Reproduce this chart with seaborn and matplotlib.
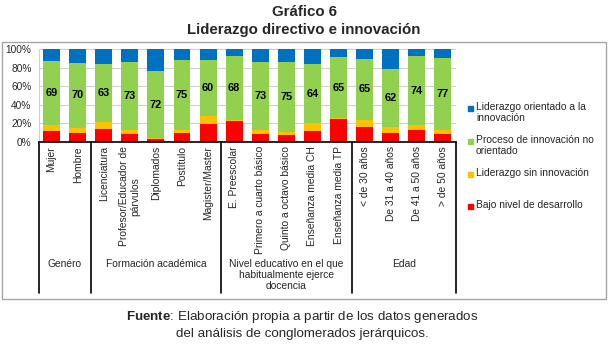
import numpy as np
import pandas as pd
import seaborn as sns
from matplotlib import pyplot as plt
from matplotlib.patches import Rectangle
from matplotlib.ticker import PercentFormatter

categorias = ['Mujer', 'Hombre', 'Licenciatura', 'Profesor/Educador de\npárvulos',
              'Diplomados', 'Postítulo', 'Magister/Master', 'E. Preescolar',
              'Primero a cuarto básico', 'Quinto a octavo básico', 'Enseñanza media CH',
              'Enseñanza media TP', '< de 30 años', 'De 31 a 40 años', 'De 41 a 50 años',
              '> de 50 años']
bajo_nivel = [12, 10, 14, 9, 3, 10, 19, 23, 9, 7, 12, 25, 16, 10, 13, 9]
sin_innovacion = [6, 5, 7, 4, 1, 3, 9, 1, 4, 4, 8, 1, 8, 6, 5, 4]
no_orientado = [69, 70, 63, 73, 72, 75, 60, 68, 73, 75, 64, 65, 65, 62, 74, 77]
orientado = [13, 15, 16, 14, 24, 12, 12, 8, 14, 14, 16, 9, 11, 22, 8, 10]

grupos = ['Genéro', 'Formación académica',
          'Nivel educativo en el que\nhabitualmente ejerce\ndocencia', 'Edad']
tam_grupos = [2, 5, 5, 4]

series = ['Bajo nivel de desarrollo', 'Liderazgo sin innovación',
          'Proceso de innovación no\norientado', 'Liderazgo orientado a la\ninnovación']
colores = ['#ff0000', '#ffc000', '#92d050', '#0070c0']

sns.set_style('white')
plt.rcParams['font.family'] = ['Liberation Sans', 'DejaVu Sans']
plt.rcParams['mathtext.fontset'] = 'custom'
plt.rcParams['mathtext.rm'] = 'Liberation Sans'
plt.rcParams['mathtext.bf'] = 'Liberation Sans:bold'

W, H = 608, 346
fig = plt.figure(figsize=(W / 100, H / 100), dpi=100)
ax = fig.add_axes([38.5 / W, 1 - 142 / H, (456 - 38.5) / W, 93 / H])

df = pd.DataFrame({'categoria': categorias, series[0]: bajo_nivel, series[1]: sin_innovacion,
                   series[2]: no_orientado, series[3]: orientado})
acumulado = df[series].cumsum(axis=1)

# barras apiladas: se dibuja del total hacia abajo
for s, c in reversed(list(zip(series, colores))):
    sns.barplot(x=df['categoria'], y=acumulado[s], color=c, saturation=1, width=0.65,
                linewidth=0, ax=ax)

for i in range(len(categorias)):
    y = bajo_nivel[i] + sin_innovacion[i] + no_orientado[i] / 2
    ax.text(i, y, str(no_orientado[i]), ha='center', va='center', fontsize=7.8,
            fontweight='bold', color='black')

ax.set_ylim(0, 100)
ax.set_xlim(-0.5, len(categorias) - 0.5)
ax.set_yticks(range(0, 101, 20))
ax.yaxis.set_major_formatter(PercentFormatter(decimals=0))
ax.yaxis.grid(True, color='#d0d0d0', lw=0.8)
ax.set_axisbelow(True)
ax.set_xlabel('')
ax.set_ylabel('')
for lado in ['top', 'right']:
    ax.spines[lado].set_visible(False)
ax.spines['left'].set_color('#d0d0d0')
ax.spines['left'].set_linewidth(0.8)
ax.spines['bottom'].set_color('black')
ax.spines['bottom'].set_linewidth(1.2)
ax.tick_params(axis='y', length=0, pad=5, labelsize=7.3, labelcolor='#262626')
ax.tick_params(axis='x', length=0, pad=3, labelsize=7.4, labelcolor='#262626')
for t in ax.get_xticklabels():
    t.set_rotation(90)
    t.set_va('top')
    t.set_ha('center')
    t.set_multialignment('center')

# separadores y nombres de grupos
trans = ax.get_xaxis_transform()
bordes = np.concatenate([[0], np.cumsum(tam_grupos)]) - 0.5
for b in bordes:
    ax.plot([b, b], [0, -1.624], transform=trans, color='black', lw=1.2, clip_on=False)
for i, g in enumerate(grupos):
    centro = bordes[i] + tam_grupos[i] / 2
    ax.text(centro, -1.255, g, transform=trans, ha='center', va='top', fontsize=7.4,
            color='#262626', linespacing=1.15)

# leyenda
for k, (s, c) in enumerate(reversed(list(zip(series, colores)))):
    yc = [108, 141, 174, 206][k]
    fig.add_artist(Rectangle((468 / W, 1 - (yc + 2.5) / H), 5 / W, 5 / H, color=c,
                             transform=fig.transFigure))
    fig.text(476 / W, 1 - (yc - 6) / H, s, ha='left', va='top', fontsize=7.4,
             color='#262626', linespacing=1.15)

fig.add_artist(Rectangle((2 / W, 1 - 299 / H), 604 / W, 257 / H, fill=False,
                         edgecolor='#a6a6a6', lw=1, transform=fig.transFigure))

fig.text(0.5, 1 - 12 / H, 'Gráfico 6', ha='center', va='center', fontsize=10.8,
         fontweight='bold')
fig.text(0.5, 1 - 30 / H, 'Liderazgo directivo e innovación', ha='center', va='center',
         fontsize=10.8, fontweight='bold')
fig.text(0.497, 1 - 317 / H, r'$\mathbf{Fuente}$: Elaboración propia a partir de los datos generados',
         ha='center', va='center', fontsize=9.6)
fig.text(0.497, 1 - 333.5 / H, 'del análisis de conglomerados jerárquicos.', ha='center',
         va='center', fontsize=9.6)

fig.savefig('out.png', dpi=100)
